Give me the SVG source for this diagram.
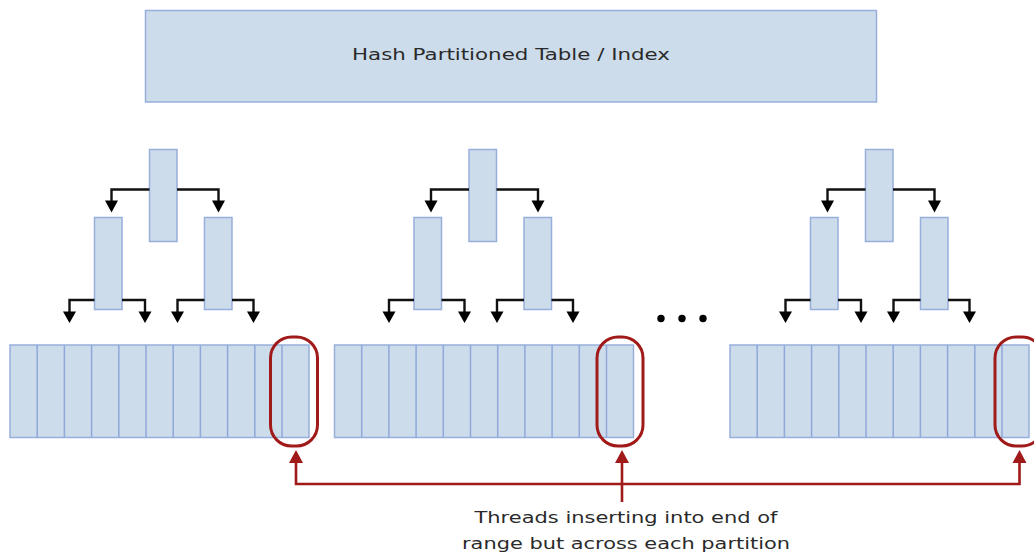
<svg xmlns="http://www.w3.org/2000/svg" width="1034" height="557" viewBox="0 0 1034 557">
<defs>
<style>
.box{fill:#ccdcea;stroke:#98aedc;stroke-width:1.5}
.cell{fill:none;stroke:#90a8da;stroke-width:1.5}
.blk{fill:none;stroke:#111;stroke-width:2.4}
.red{fill:none;stroke:#a11a1a;stroke-width:2.6}
.oval{fill:none;stroke:#a11a1a;stroke-width:3}
.t{font-family:"DejaVu Sans",Verdana,sans-serif;fill:#2a2a2a;font-size:16.5px}
</style>
<g id="tree">
<rect class="box" x="149.5" y="149.5" width="27.5" height="92"/>
<rect class="box" x="94.5" y="217.5" width="27.5" height="92"/>
<rect class="box" x="204.5" y="217.5" width="27.5" height="92"/>
</g>
<g id="treeArrows">
<path class="blk" d="M149.5,189.5 H111.5 V201"/>
<path class="blk" d="M177,189.5 H218.5 V201"/>
<path class="blk" d="M94.5,300 H69.5 V312"/>
<path class="blk" d="M122,300 H145 V312"/>
<path class="blk" d="M204.5,300 H177.5 V312"/>
<path class="blk" d="M232,300 H253.5 V312"/>
<path d="M105,200.5 h13 l-6.5,12 z M212,200.5 h13 l-6.5,12 z M63,311.5 h13 l-6.5,11.5 z M138.5,311.5 h13 l-6.5,11.5 z M171,311.5 h13 l-6.5,11.5 z M247,311.5 h13 l-6.5,11.5 z" fill="#000"/>
</g>
<g id="row">
<rect class="box" x="0" y="0" width="299" height="92.5"/>
<path class="cell" d="M27.2,0 V92.5 M54.4,0 V92.5 M81.6,0 V92.5 M108.8,0 V92.5 M136,0 V92.5 M163.2,0 V92.5 M190.4,0 V92.5 M217.6,0 V92.5 M244.8,0 V92.5 M272,0 V92.5"/>
</g>
</defs>

<g id="top-table">
<rect class="box" x="145.5" y="10.5" width="731" height="91.5"/>
<text class="t" x="511" y="60" text-anchor="middle" textLength="318" lengthAdjust="spacingAndGlyphs">Hash Partitioned Table / Index</text>
</g>

<g id="partition-1">
<use href="#tree"/>
<use href="#row" x="10" y="345"/>
</g>
<g id="partition-2">
<use href="#tree" x="319.5"/>
<use href="#row" x="334.5" y="345"/>
</g>
<g id="partition-3">
<use href="#tree" x="716"/>
<use href="#row" x="730" y="345"/>
</g>

<g id="ellipsis">
<circle cx="661" cy="318.5" r="3.7" fill="#000"/>
<circle cx="682" cy="318.5" r="3.7" fill="#000"/>
<circle cx="703" cy="318.5" r="3.7" fill="#000"/>
</g>

<g id="end-markers">
<rect class="oval" x="270.5" y="337" width="47" height="109" rx="21"/>
<rect class="oval" x="597" y="337" width="46" height="109" rx="21"/>
<rect class="oval" x="995" y="337" width="48" height="109" rx="21"/>
</g>

<g id="connectors">
<use href="#treeArrows"/>
<use href="#treeArrows" x="319.5"/>
<use href="#treeArrows" x="716"/>
<path class="red" d="M296,462 V484 H1019.5 V462"/>
<path class="red" d="M622,502 V462"/>
<path d="M289,463 h14 l-7,-13 z M615,463 h14 l-7,-13 z M1012.5,463 h14 l-7,-13 z" fill="#a11a1a"/>
</g>

<g id="caption">
<text class="t" x="626" y="523" text-anchor="middle" textLength="303" lengthAdjust="spacingAndGlyphs">Threads inserting into end of</text>
<text class="t" x="626" y="549" text-anchor="middle" textLength="328" lengthAdjust="spacingAndGlyphs">range but across each partition</text>
</g>
</svg>
